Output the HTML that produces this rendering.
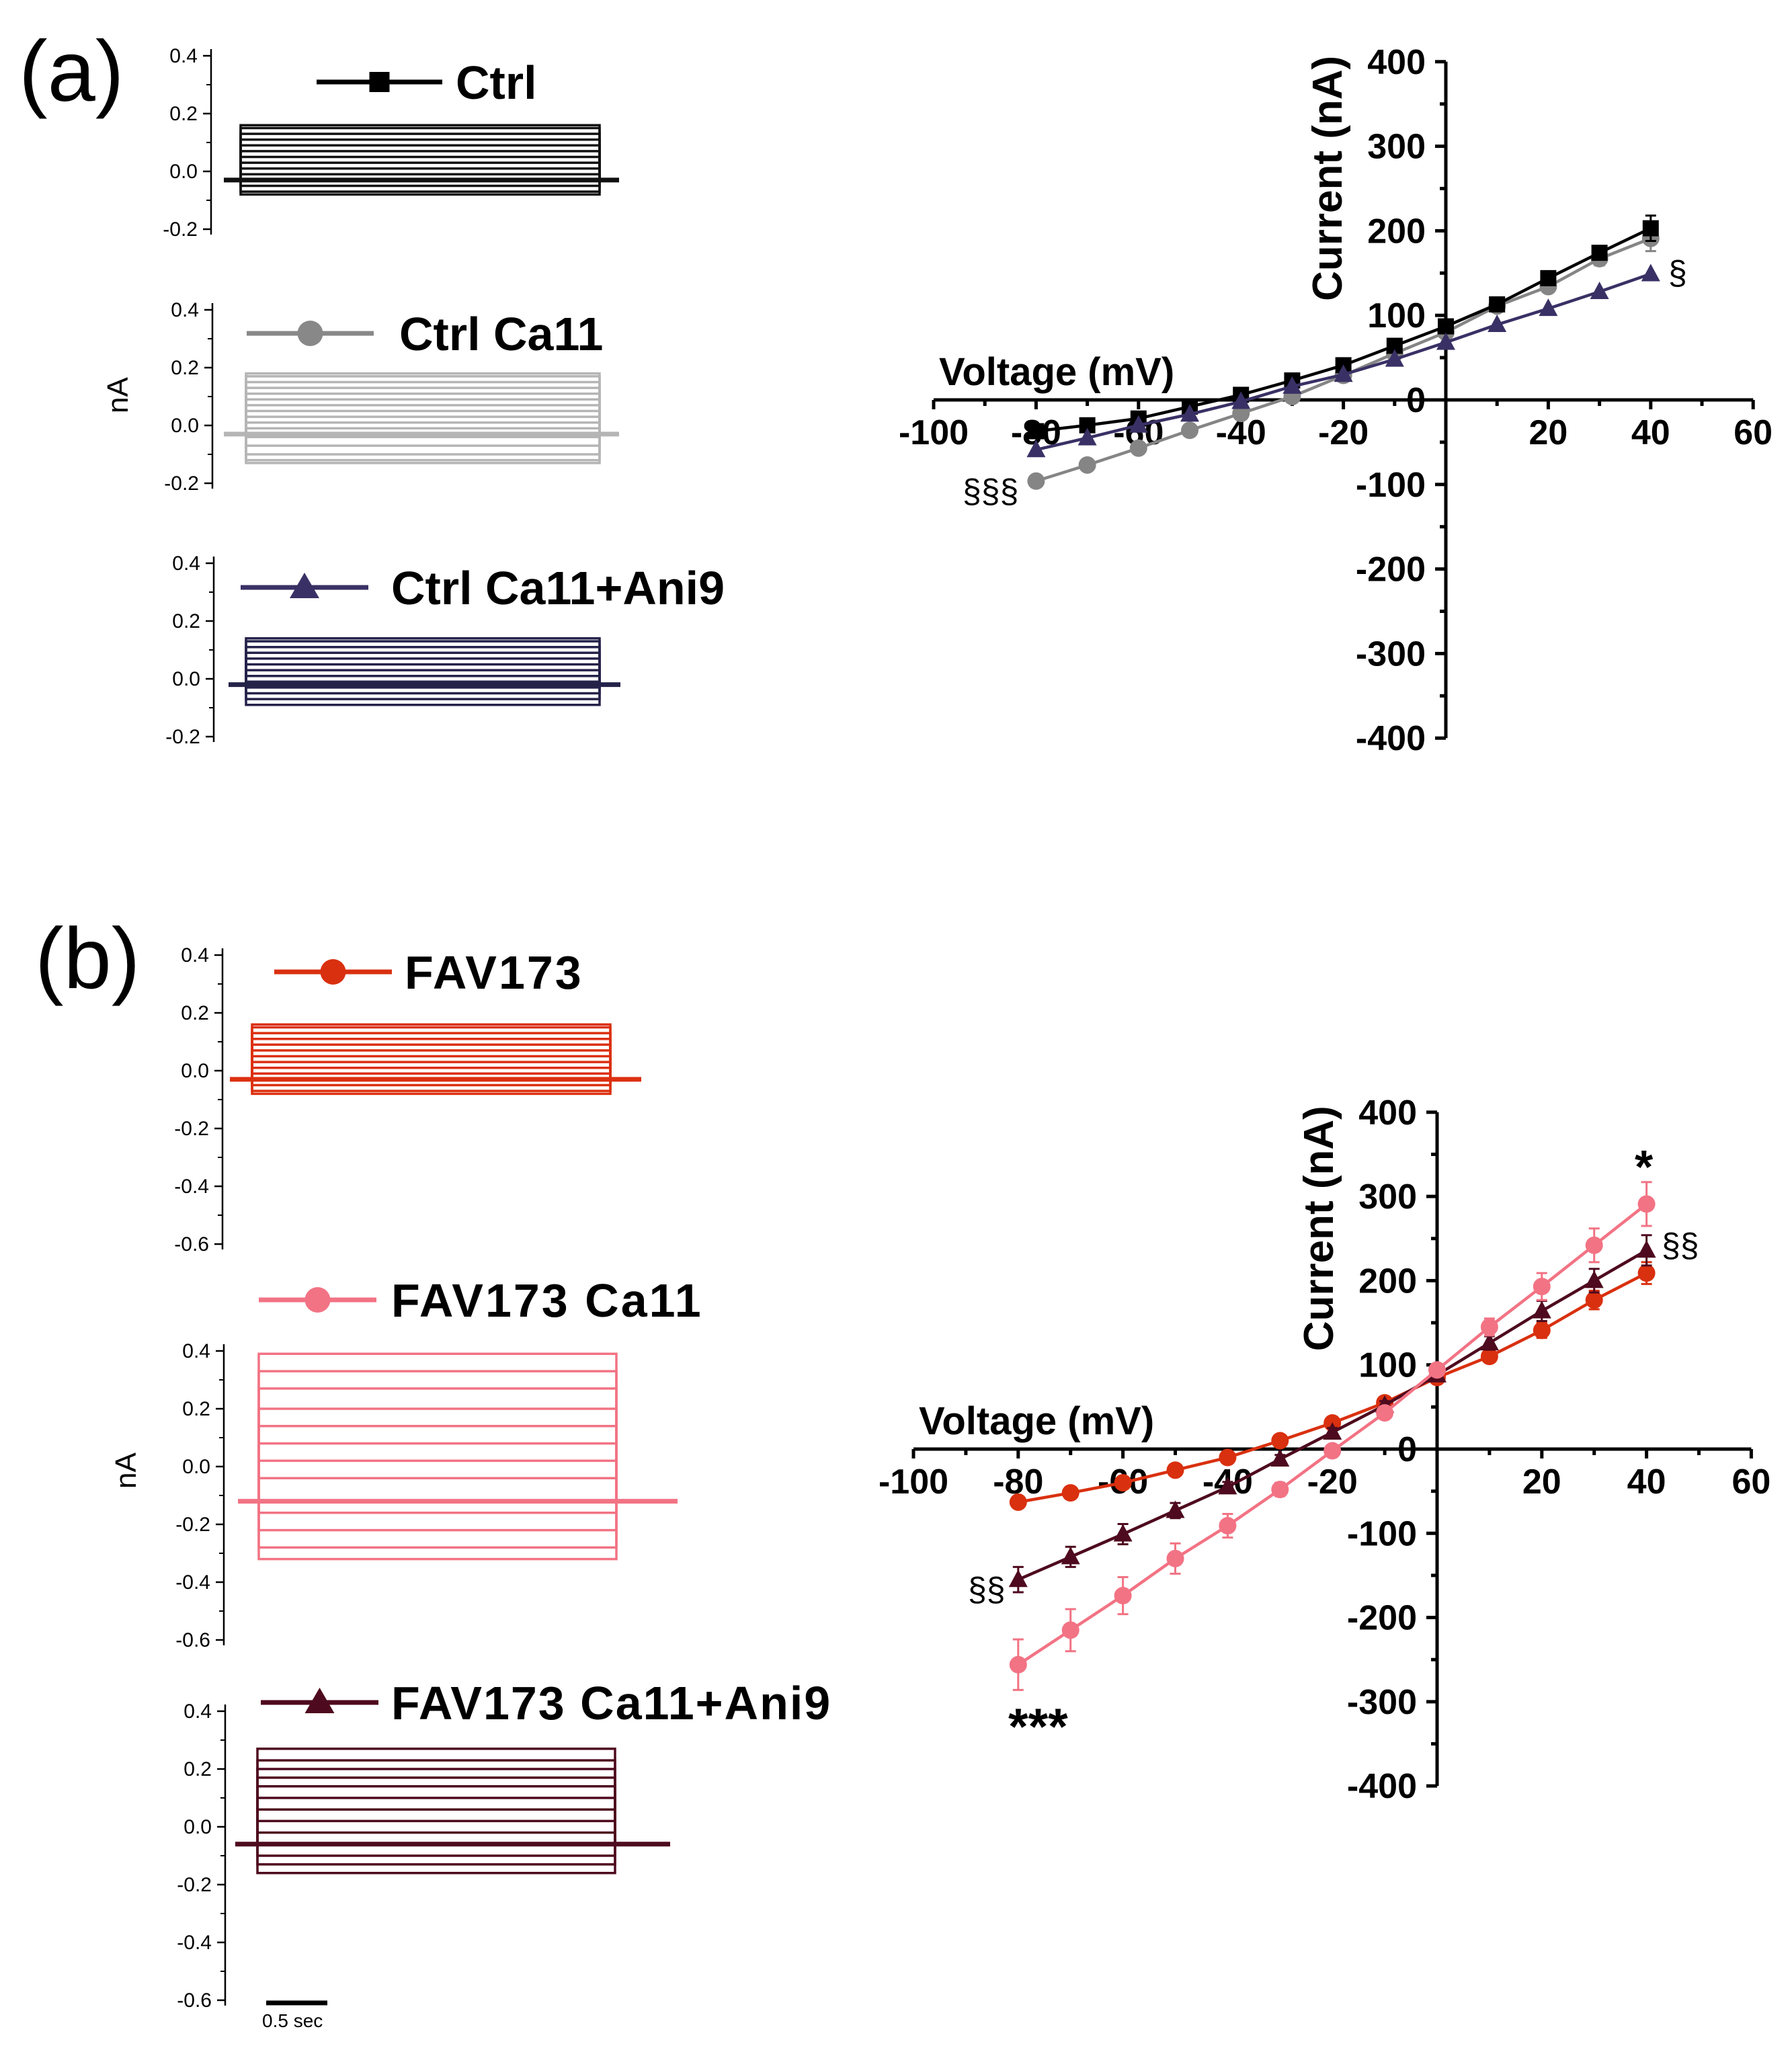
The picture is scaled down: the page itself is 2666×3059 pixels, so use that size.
<!DOCTYPE html>
<html><head><meta charset="utf-8">
<style>
html,body{margin:0;padding:0;background:#fff;}
svg{display:block;}
.nar{font-family:"Liberation Sans Narrow","Liberation Sans",sans-serif;font-weight:bold;}
.reg{font-family:"Liberation Sans",sans-serif;}
.bld{font-family:"Liberation Sans",sans-serif;font-weight:bold;}
</style></head>
<body>
<svg id="fig" width="2666" height="3059" viewBox="0 0 2666 3059" xmlns="http://www.w3.org/2000/svg">
<text x="28" y="150" class="reg" font-size="128">(a)</text>
<text x="52" y="1470" class="reg" font-size="128">(b)</text>
<g id="traces"></g>
<g id="ivA"></g>
<g id="ivB"></g>
</svg>
<script>
// ---- IV data (panel a) ----
const voltages = [-80,-70,-60,-50,-40,-30,-20,-10,0,10,20,30,40];
const ctrlCurrent = [-37,-30,-22,-8,6,23,41,64,87,113,144,174,203];
const ctrlCa11Current = [-96,-77,-57,-36,-16,4,29,55,80,111,134,167,191];
const ctrlAni9Current = [-59,-45,-30,-17,-2,16,30,48,68,89,108,128,149];
const ctrlErr = [3,3,3,3,3,3,3,4,5,6,6,8,15];
// ---- IV data (panel b) ----
const favCurrent = [-63,-52,-40,-25,-10,10,31,55,85,110,141,177,209];
const favCa11Current = [-256,-215,-174,-130,-91,-48,-2,43,94,145,193,242,291];
const favAni9Current = [-155,-128,-101,-73,-45,-12,20,52,88,126,164,200,236];
const favErr = [4,4,5,5,5,5,5,5,6,7,9,11,13];
const favCa11Err = [30,25,22,18,14,8,5,5,6,10,16,20,26];
const favAni9Err = [15,12,12,9,6,5,5,5,6,8,12,14,18];
// ---- axis ticks ----
const xTickLabels = [-100,-80,-60,-40,-20,20,40,60];
const yTickLabels = [400,300,200,100,0,-100,-200,-300,-400];
// ---- trace step levels (nA) ----
const levelsA1 = [0.16,0.15,0.13,0.11,0.09,0.07,0.05,0.03,0.01,-0.01,-0.03,-0.05,-0.07,-0.08];
const levelsA2 = [0.18,0.17,0.15,0.13,0.11,0.09,0.07,0.05,0.03,0.01,-0.01,-0.04,-0.07,-0.10,-0.12,-0.13];
const levelsA3 = [0.14,0.13,0.11,0.09,0.07,0.05,0.03,0.01,-0.01,-0.03,-0.05,-0.07,-0.09];
const levelsB1 = [0.16,0.15,0.13,0.11,0.09,0.07,0.05,0.03,0.01,-0.01,-0.03,-0.05,-0.07,-0.08];
const levelsB2 = [0.39,0.33,0.27,0.20,0.14,0.08,0.02,-0.04,-0.16,-0.22,-0.28,-0.32];
const levelsB3 = [0.27,0.23,0.20,0.17,0.14,0.10,0.06,0.02,-0.02,-0.06,-0.10,-0.13,-0.16];
const aTicks = ["0.4","0.2","0.0","-0.2"];
const bTicks = ["0.4","0.2","0.0","-0.2","-0.4","-0.6"];

const NS="http://www.w3.org/2000/svg";
function mk(tag,attrs,parent){const e=document.createElementNS(NS,tag);for(const k in attrs)e.setAttribute(k,attrs[k]);parent.appendChild(e);return e;}

// ---------- IV charts ----------
function drawIV(g,cfg){
  const X=v=>cfg.x0+v*cfg.pxX; const Y=v=>cfg.y0-v*cfg.pxY;
  const ax=mk('line',{x1:X(-100),y1:Y(0),x2:X(60),y2:Y(0),stroke:'#000','stroke-width':5},g);
  
  const ay=mk('line',{x1:X(0),y1:Y(400),x2:X(0),y2:Y(-400),stroke:'#000','stroke-width':5},g);
  
  for(let v=-100;v<=60;v+=10){mk('line',{x1:X(v),y1:Y(0),x2:X(v),y2:Y(0)+(v%20===0?14:9),stroke:'#000','stroke-width':5},g);}
  for(let v=-400;v<=400;v+=50){mk('line',{x1:X(0),y1:Y(v),x2:X(0)-(v%100===0?16:9),y2:Y(v),stroke:'#000','stroke-width':5},g);}
  xTickLabels.forEach(v=>{const t=mk('text',{x:X(v),y:Y(0)+66,'text-anchor':'middle','font-size':52,class:'nar'},g);t.textContent=v;
    });
  yTickLabels.forEach(v=>{const t=mk('text',{x:X(0)-30,y:Y(v)+18,'text-anchor':'end','font-size':52,class:'nar'},g);t.textContent=v;
    });
  const xt=mk('text',{x:X(-100)+8,y:Y(0)-22,'font-size':58,class:'nar'},g);xt.textContent='Voltage (mV)';
  
  const yt=mk('text',{x:0,y:0,'font-size':62,class:'nar','text-anchor':'middle',transform:`translate(${X(0)-155},${Y(262)}) rotate(-90)`},g);yt.textContent='Current (nA)';
  
  cfg.series.forEach(s=>{
    const sg=mk('g',{},g);
    let d='';voltages.forEach((v,i)=>{d+=(i?'L':'M')+X(v)+' '+Y(s.data[i]);});
    mk('path',{d:d,fill:'none',stroke:s.color,'stroke-width':4.5},sg);
    voltages.forEach((v,i)=>{
      if(s.err){const e=s.err[i];const px=X(v),y1=Y(s.data[i]+e),y2=Y(s.data[i]-e);
        mk('line',{x1:px,y1:y1,x2:px,y2:y2,stroke:s.color,'stroke-width':3},sg);
        mk('line',{x1:px-8,y1:y1,x2:px+8,y2:y1,stroke:s.color,'stroke-width':3},sg);
        mk('line',{x1:px-8,y1:y2,x2:px+8,y2:y2,stroke:s.color,'stroke-width':3},sg);}
      const cx=X(v),cy=Y(s.data[i]);let m;
      if(s.marker==='square')m=mk('rect',{x:cx-12,y:cy-12,width:24,height:24,fill:s.color},sg);
      else if(s.marker==='circle')m=mk('circle',{cx:cx,cy:cy,r:13,fill:s.color},sg);
      else m=mk('polygon',{points:`${cx},${cy-15} ${cx+14},${cy+11} ${cx-14},${cy+11}`,fill:s.color},sg);
      
    });
  });
  cfg.notes.forEach(n=>{const t=mk('text',{x:n.x,y:n.y,'font-size':n.fs||50,class:n.cls||'reg'},g);t.textContent=n.t;
    });
}
drawIV(document.getElementById('ivA'),{x0:2151,y0:595,pxX:7.62,pxY:1.258,
  series:[
    {name:'ctrl-ca11-series',data:ctrlCa11Current,color:'#858585',marker:'circle',err:ctrlErr},
    {name:'ctrl-series',data:ctrlCurrent,color:'#000',marker:'square',err:ctrlErr},
    {name:'ctrl-ani9-series',data:ctrlAni9Current,color:'#393165',marker:'triangle',err:null}],
  notes:[{t:'§',x:2482,y:423},{t:'§§§',x:1432,y:748}]});
drawIV(document.getElementById('ivB'),{x0:2138,y0:2156,pxX:7.79,pxY:1.253,
  series:[
    {name:'fav173-series',data:favCurrent,color:'#d9300f',marker:'circle',err:favErr},
    {name:'fav173-ani9-series',data:favAni9Current,color:'#4e0a1e',marker:'triangle',err:favAni9Err},
    {name:'fav173-ca11-series',data:favCa11Current,color:'#f27384',marker:'circle',err:favCa11Err}],
  notes:[{t:'*',x:2432,y:1760,fs:70,cls:'nar'},{t:'§§',x:2472,y:1870},{t:'§§',x:1440,y:2382},{t:'***',x:1500,y:2595,fs:76,cls:'nar'}]});

// ---------- current traces ----------
function drawTraces(g,p){
  const pg=mk('g',{},g);
  const per=86/0.2;
  const yv=v=>p.yTop+(0.4-v)*per;
  const yBottom=yv(0.4-0.2*(p.ticks.length-1));
  mk('line',{x1:p.ax,y1:p.yTop-10,x2:p.ax,y2:yBottom+8,stroke:'#000','stroke-width':2.5},pg);
  for(let i=0;i<p.ticks.length;i++){const v=0.4-0.2*i;const y=yv(v);
    mk('line',{x1:p.ax,y1:y,x2:p.ax-12,y2:y,stroke:'#000','stroke-width':2.5},pg);
    if(i<p.ticks.length-1)mk('line',{x1:p.ax,y1:y+43,x2:p.ax-7,y2:y+43,stroke:'#000','stroke-width':2},pg);
    const t=mk('text',{x:p.ax-20,y:y+10,'text-anchor':'end','font-size':30,class:'reg'},pg);t.textContent=p.ticks[i];
    }
  const yb=yv(p.base);
  p.levels.forEach(l=>{
    const y=yv(l);
    const tr=mk('path',{d:`M${p.x0} ${yb}L${p.x0} ${y}L${p.x1} ${y}L${p.x1} ${yb}`,fill:'none',stroke:p.color,'stroke-width':3.5},pg);
    
  });
  mk('line',{x1:p.b0,y1:yb,x2:p.b1,y2:yb,stroke:p.color,'stroke-width':7},pg);
  const lg=mk('g',{},pg);
  mk('line',{x1:p.lx0,y1:p.ly,x2:p.lx1,y2:p.ly,stroke:p.lcolor,'stroke-width':7},lg);
  const mx=(p.lx0+p.lx1)/2;
  if(p.marker==='square')mk('rect',{x:mx-15,y:p.ly-15,width:30,height:30,fill:p.lcolor},lg);
  else if(p.marker==='circle')mk('circle',{cx:mx,cy:p.ly,r:19,fill:p.lcolor},lg);
  else mk('polygon',{points:`${mx},${p.ly-22} ${mx+22},${p.ly+16} ${mx-22},${p.ly+16}`,fill:p.lcolor},lg);
  const t=mk('text',{x:p.tx,y:p.ly+25,'font-size':p.fs,class:'bld'},lg);t.textContent=p.label;
  if(p.ls)t.setAttribute('letter-spacing',p.ls);
}
const tg=document.getElementById('traces');
drawTraces(tg,{name:'trace-ctrl',ax:314,yTop:83,ticks:aTicks,levels:levelsA1,base:-0.03,color:'#111',x0:358,x1:892,b0:333,b1:921,lx0:471,lx1:658,ly:122,lcolor:'#000',marker:'square',tx:678,label:'Ctrl',fs:70});
drawTraces(tg,{name:'trace-ctrl-ca11',ax:316,yTop:461,ticks:aTicks,levels:levelsA2,base:-0.03,color:'#b5b5b5',x0:366,x1:892,b0:333,b1:921,lx0:367,lx1:556,ly:496,lcolor:'#888',marker:'circle',tx:594,label:'Ctrl Ca11',fs:70});
drawTraces(tg,{name:'trace-ctrl-ani9',ax:318,yTop:838,ticks:aTicks,levels:levelsA3,base:-0.02,color:'#25224a',x0:366,x1:892,b0:340,b1:923,lx0:358,lx1:548,ly:874,lcolor:'#393165',marker:'triangle',tx:582,label:'Ctrl Ca11+Ani9',fs:70});
drawTraces(tg,{name:'trace-fav173',ax:331,yTop:1421,ticks:bTicks,levels:levelsB1,base:-0.03,color:'#dc3010',x0:375,x1:908,b0:342,b1:954,lx0:408,lx1:583,ly:1446,lcolor:'#d9300f',marker:'circle',tx:602,label:'FAV173',fs:70,ls:3});
drawTraces(tg,{name:'trace-fav173-ca11',ax:333,yTop:2010,ticks:bTicks,levels:levelsB2,base:-0.12,color:'#f27384',x0:385,x1:917,b0:354,b1:1008,lx0:385,lx1:560,ly:1934,lcolor:'#f27384',marker:'circle',tx:582,label:'FAV173 Ca11',fs:70,ls:3});
drawTraces(tg,{name:'trace-fav173-ani9',ax:335,yTop:2546,ticks:bTicks,levels:levelsB3,base:-0.06,color:'#4e0a1e',x0:383,x1:915,b0:350,b1:997,lx0:388,lx1:563,ly:2533,lcolor:'#4e0a1e',marker:'triangle',tx:582,label:'FAV173 Ca11+Ani9',fs:70,ls:2});

const fig=document.getElementById('fig');
function addT(x,y,txt,fs,rot,name){const t=document.createElementNS(NS,'text');t.setAttribute('font-size',fs);t.setAttribute('class','reg');
 t.setAttribute('transform',`translate(${x},${y})`+(rot?` rotate(${rot})`:''));t.textContent=txt;
 
 
 fig.appendChild(t);}
addT(190,615,'nA',44,-90,'trace-y-axis-title-a');
addT(202,2215,'nA',44,-90,'trace-y-axis-title-b');
addT(390,3016,'0.5 sec',28,0,'scale-bar-label');
const sb=document.createElementNS(NS,'line');
sb.setAttribute('x1',396);sb.setAttribute('x2',487);sb.setAttribute('y1',2980);sb.setAttribute('y2',2980);sb.setAttribute('stroke','#000');sb.setAttribute('stroke-width',7);


fig.appendChild(sb);
</script>
</body></html>
